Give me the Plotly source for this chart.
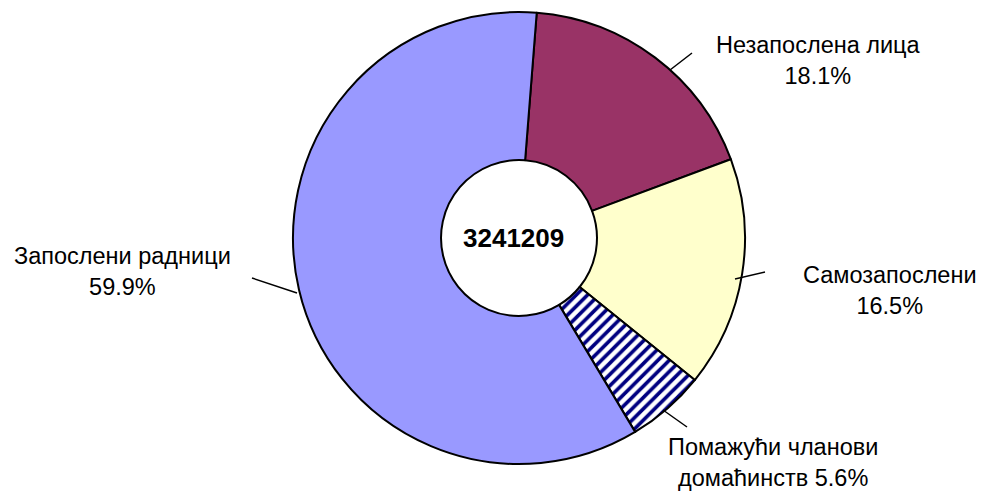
import plotly.graph_objects as go

W, H = 982, 494

categories = ["Незапослена лица", "Самозапослени", "Помажући чланови домаћинств", "Запослени радници"]
values = [18.1, 16.5, 5.6, 59.9]
label_lines = [["Незапослена лица", "{v}%"], ["Самозапослени", "{v}%"],
               ["Помажући чланови", "домаћинств {v}%"], ["Запослени радници", "{v}%"]]
total_label = "3241209"

colors = ["#993366", "#FFFFCC", "#FFFFFF", "#9999FF"]
patterns = ["", "", "/", ""]

# label centres (px) and leader lines (px)
label_pos = [(818, 60), (890, 290), (773, 462), (123, 271)]
leaders = [((670, 70), (692, 53)), ((735, 279), (765, 272)),
           ((663, 410), (687, 427)), ((252, 278), (297, 293))]

font = "Liberation Sans, Arial, sans-serif"

fig = go.Figure()
fig.add_trace(go.Pie(
    labels=categories, values=values, sort=False, direction="clockwise",
    rotation=4.5, hole=0.345, textinfo="none", hoverinfo="label+percent",
    marker=dict(colors=colors, line=dict(color="black", width=2),
                pattern=dict(shape=patterns, fgcolor="#000080", bgcolor="#FFFFFF",
                             size=8, solidity=0.45)),
    domain=dict(x=[(519 - 226) / W, (519 + 226) / W], y=[(H - 464) / H, (H - 12) / H]),
    showlegend=False,
))

def px(x):
    return x / W

def py(y):
    return 1 - y / H

annotations = [dict(text=f"<b>{total_label}</b>", x=px(513), y=py(238), xref="paper", yref="paper",
                    xanchor="center", yanchor="middle", showarrow=False,
                    font=dict(family=font, size=26, color="black"))]
for lines, v, (x, y) in zip(label_lines, values, label_pos):
    txt = "<br>".join(l.format(v=v) for l in lines)
    annotations.append(dict(text=txt, x=px(x), y=py(y), xref="paper", yref="paper",
                            xanchor="center", yanchor="middle",
                            showarrow=False, align="center",
                            font=dict(family=font, size=23.5, color="black")))

shapes = [dict(type="line", xref="paper", yref="paper", x0=px(a[0]), y0=py(a[1]),
               x1=px(b[0]), y1=py(b[1]), line=dict(color="black", width=1.5))
          for a, b in leaders]

fig.update_layout(width=W, height=H, margin=dict(l=0, r=0, t=0, b=0),
                  paper_bgcolor="white", plot_bgcolor="white",
                  annotations=annotations, shapes=shapes,
                  font=dict(family=font))
fig.write_html("out.html", config={"displayModeBar": False},
               post_script="document.body.style.margin='0';")
